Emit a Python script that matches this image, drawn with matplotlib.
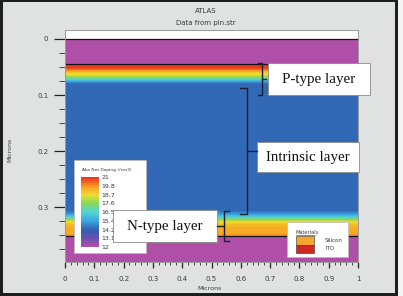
import numpy as np
import matplotlib
matplotlib.use("Agg")
import matplotlib.pyplot as plt
from matplotlib.colors import LinearSegmentedColormap
from matplotlib.patches import Rectangle
from matplotlib.lines import Line2D
from matplotlib.ticker import MultipleLocator, FuncFormatter

# ---------------- data ----------------
depth = [0.0, 0.045, 0.0455, 0.050, 0.055, 0.061, 0.066, 0.071, 0.075, 0.079,
         0.083, 0.305, 0.310, 0.315, 0.320, 0.325, 0.330, 0.337,
         0.3515, 0.3525, 0.398]
log_doping = [12.0, 12.0, 21.0, 20.9, 20.2, 19.0, 18.0, 16.8, 15.6, 14.6,
              14.3, 14.3, 14.8, 15.8, 17.0, 18.3, 19.2, 19.6,
              19.8, 12.0, 12.0]
x_extent = [0.0, 1.0]
material_boundaries = [0.0, 0.0455, 0.352]

cbar_ticks = [12, 13.1, 14.2, 15.4, 16.5, 17.6, 18.7, 19.8, 21]
cbar_labels = ["12", "13.1", "14.2", "15.4", "16.5", "17.6", "18.7", "19.8", "21"]
cmap_colors = ["#b64fa6", "#6c4fae", "#2f5fb0", "#3aa6e0", "#52d6cf",
               "#8cd650", "#f0e030", "#f8a020", "#e83020"]

materials = ["Silicon", "ITO"]
material_colors = ["#f5a530", "#d02820"]

annotations = ["P-type layer", "Intrinsic layer", "N-type layer"]

W, H = 403, 296
BG = "#dfe2e1"
TXT = "#3a3a3a"


def fx(px):
    return px / W


def fy(py):
    return 1 - py / H


fig = plt.figure(figsize=(W / 100, H / 100), dpi=100, facecolor=BG)

# dark frame of the screenshot
fig.patches.append(Rectangle((0, 0), fx(3), 1, transform=fig.transFigure,
                             facecolor="#1e1e1e", edgecolor="none"))
fig.patches.append(Rectangle((0, fy(2)), 1, 2 / H, transform=fig.transFigure,
                             facecolor="#1e1e1e", edgecolor="none"))
fig.patches.append(Rectangle((fx(395), 0), fx(3), 1, transform=fig.transFigure,
                             facecolor="#1e1e1e", edgecolor="none"))
fig.patches.append(Rectangle((fx(398), 0), fx(5), 1, transform=fig.transFigure,
                             facecolor="#f4f4f4", edgecolor="none"))
fig.patches.append(Rectangle((0, 0), fx(397), 3 / H, transform=fig.transFigure,
                             facecolor="#1e1e1e", edgecolor="none"))

# ---------------- main axes ----------------
ax = fig.add_axes([fx(65), fy(262), fx(358) - fx(65), fy(30) - fy(262)])
ax.set_facecolor("white")

positions = [(v - 12) / 9 for v in cbar_ticks]
cmap = LinearSegmentedColormap.from_list("atlas", list(zip(positions, cmap_colors)))
levels = np.linspace(12, 21, 37)
Z = np.column_stack([log_doping, log_doping])
cs = ax.contourf(x_extent, depth, Z, levels=levels, cmap=cmap)

for b in material_boundaries:
    ax.axhline(b, color="#111111", lw=0.9)

ax.set_xlim(0, 1)
ax.set_ylim(0.398, -0.016)

ax.xaxis.set_major_locator(MultipleLocator(0.1))
ax.xaxis.set_minor_locator(MultipleLocator(0.02))
ax.yaxis.set_major_locator(MultipleLocator(0.1))
ax.yaxis.set_minor_locator(MultipleLocator(0.025))
fmt = FuncFormatter(lambda v, p: "%g" % round(v, 3))
ax.xaxis.set_major_formatter(fmt)
ax.yaxis.set_major_formatter(fmt)
ax.tick_params(axis="y", which="major", direction="out", length=8, width=0.9,
               color="#222222", labelsize=5, labelcolor=TXT, pad=4)
ax.tick_params(axis="y", which="minor", direction="out", length=4, width=0.7,
               color="#444444")
ax.tick_params(axis="x", which="major", direction="out", length=4, width=0.9,
               color="#222222", labelsize=5, labelcolor=TXT, pad=6)
ax.tick_params(axis="x", which="minor", direction="out", length=2.5, width=0.7,
               color="#444444")
for s in ax.spines.values():
    s.set_color("#9a9a9a")
    s.set_linewidth(0.7)

fig.text(fx(206), fy(11), "ATLAS", fontsize=5, color=TXT, ha="center", va="center")
fig.text(fx(206), fy(23), "Data from pin.str", fontsize=5, color=TXT, ha="center", va="center")
fig.text(fx(210), fy(289), "Microns", fontsize=4.5, color=TXT, ha="center", va="center")
fig.text(fx(10), fy(150), "Microns", fontsize=4.5, color=TXT, ha="center", va="center",
         rotation=90)

# ---------------- colour legend ----------------
fig.patches.append(Rectangle((fx(74), fy(253)), fx(146) - fx(74), fy(160) - fy(253),
                             transform=fig.transFigure, facecolor="white",
                             edgecolor="#bbbbbb", lw=0.5, zorder=5))
fig.text(fx(82), fy(170), "Abs Net Doping (/cm3)", fontsize=3.2, color=TXT,
         ha="left", va="center", zorder=6)
cax = fig.add_axes([fx(81), fy(247), fx(99) - fx(81), fy(177) - fy(247)], zorder=6)
cb = fig.colorbar(cs, cax=cax, ticks=cbar_ticks)
cb.set_ticklabels(cbar_labels)
cb.outline.set_visible(False)
cax.tick_params(length=0, labelsize=4.5, labelcolor=TXT, pad=2)

# ---------------- materials legend ----------------
fig.patches.append(Rectangle((fx(287), fy(257)), fx(348) - fx(287), fy(222) - fy(257),
                             transform=fig.transFigure, facecolor="white",
                             edgecolor="#bbbbbb", lw=0.5, zorder=5))
fig.text(fx(296), fy(232), "Materials", fontsize=3.6, color=TXT, ha="left",
         va="center", zorder=6)
fig.lines.append(Line2D([fx(296), fx(315)], [fy(235), fy(235)], transform=fig.transFigure,
                        color=TXT, lw=0.4, zorder=6))
for i, (m, c) in enumerate(zip(materials, material_colors)):
    top = 236 + i * 8.5
    fig.patches.append(Rectangle((fx(296), fy(top + 8.5)), fx(314) - fx(296), 8.5 / H,
                                 transform=fig.transFigure, facecolor=c,
                                 edgecolor="#333333", lw=0.4, zorder=6))
    fig.text(fx(325), fy(top + 4.5), m, fontsize=4, color=TXT, ha="left",
             va="center", zorder=6)

# ---------------- slide annotations ----------------
boxes = [(268, 63, 370, 95), (257, 142, 359, 172), (113, 210, 217, 242)]
for (x0, y0, x1, y1), label in zip(boxes, annotations):
    fig.patches.append(Rectangle((fx(x0), fy(y1)), fx(x1) - fx(x0), fy(y0) - fy(y1),
                                 transform=fig.transFigure, facecolor="white",
                                 edgecolor="#8a8a8a", lw=0.6, zorder=7))
    fig.text(fx((x0 + x1) / 2), fy((y0 + y1) / 2 + 0.5), label, fontsize=10.8,
             family="Liberation Serif", color="#111111", ha="center", va="center",
             zorder=8)

brackets = [
    ([258, 262, 262, 258], [63, 63, 95, 95]),
    ([262, 266], [79, 79]),
    ([240, 247, 247, 240], [88, 88, 214, 214]),
    ([247, 257], [151, 151]),
    ([229, 224, 224, 229], [211, 211, 241, 241]),
    ([224, 217], [226, 226]),
]
for xs, ys in brackets:
    fig.lines.append(Line2D([fx(v) for v in xs], [fy(v) for v in ys],
                            transform=fig.transFigure, color="#1a2030", lw=1.0,
                            zorder=9))

fig.savefig("out.png", dpi=100, facecolor=BG)
